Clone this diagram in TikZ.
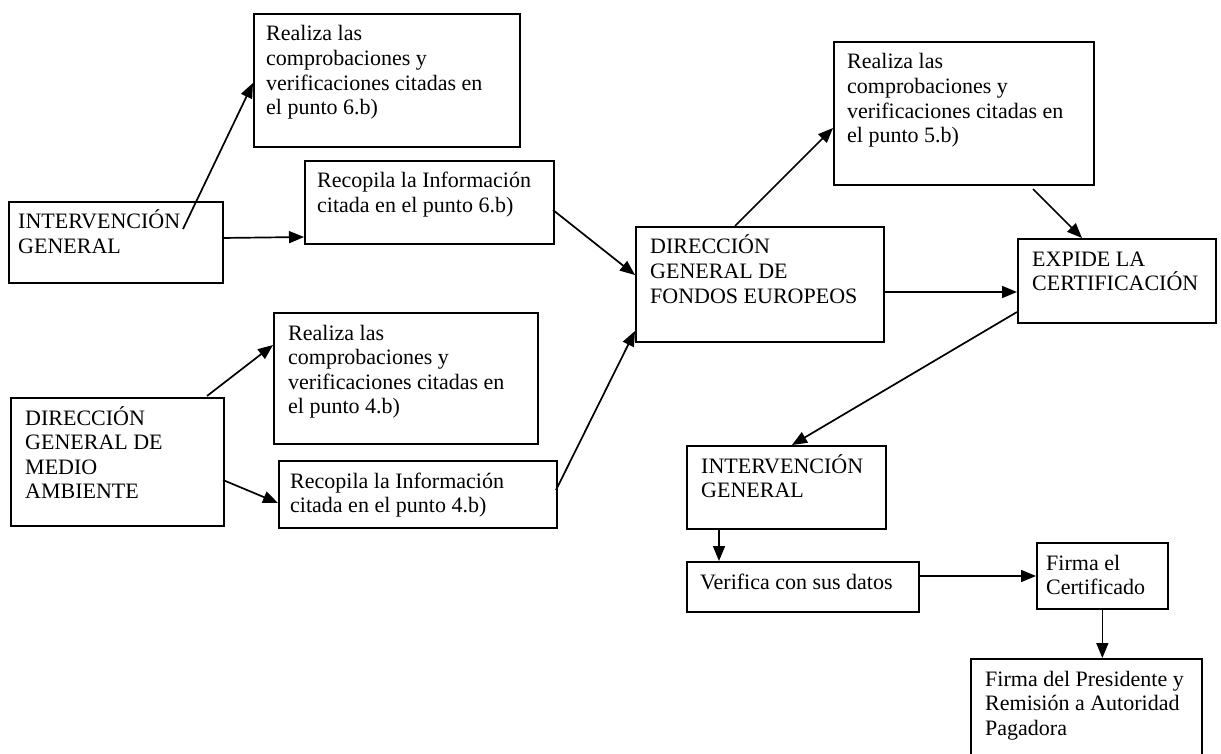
\documentclass[tikz,border=0pt]{standalone}
\usepackage{fontspec}
\setmainfont{Liberation Serif}
\usetikzlibrary{arrows.meta,calc}
\tikzset{
  box/.style={draw, line width=1.7pt, rectangle, inner sep=0pt, anchor=north west},
  lbl/.style={anchor=base west, inner sep=0pt, font=\fontsize{22}{24.6}\selectfont},
  conn/.style={line width=1.7pt, -{Triangle[length=15pt,width=12pt]}},
}
% name, x, y, w, h, left pad, text
\newcommand\bx[7]{%
  \node[box, minimum width=#4pt, minimum height=#5pt] (#1) at (#2,#3) {};
  \node[lbl] (#1-t) at ($(#1.north west)+(#6,28)$) {\parbox[t]{\dimexpr#4pt-#6pt\relax}{\raggedright #7}};
}
\begin{document}
\begin{tikzpicture}[x=1pt,y=-1pt]
  \clip (0,0) rectangle (1221,754);
  \fill[white] (0,0) rectangle (1221,754);

  \bx{a}{253}{13}{266}{133}{13}{Realiza las\\comprobaciones y\\verificaciones citadas en\\el punto 6.b)}
  \bx{b}{304}{160}{249}{83}{13}{Recopila la Información\\citada en el punto 6.b)}
  \bx{ig1}{8}{201}{214}{81}{10}{INTERVENCIÓN\\GENERAL}
  \bx{c}{273}{312}{264}{131}{15}{Realiza las\\comprobaciones y\\verificaciones citadas en\\el punto 4.b)}
  \bx{d}{278}{460}{278}{67}{12}{Recopila la Información\\citada en el punto 4.b)}
  \bx{dgma}{10}{397}{213}{128}{15}{DIRECCIÓN\\GENERAL DE\\MEDIO\\AMBIENTE}
  \bx{dgfe}{635}{226}{248}{115}{15}{DIRECCIÓN\\GENERAL DE\\FONDOS EUROPEOS}
  \bx{e}{833}{41}{260}{143}{14}{Realiza las\\comprobaciones y\\verificaciones citadas en\\el punto 5.b)}
  \bx{exp}{1017}{238}{198}{84}{15}{EXPIDE LA\\CERTIFICACIÓN}
  \bx{ig2}{686}{445}{199}{83}{15}{INTERVENCIÓN\\GENERAL}
  \bx{ver}{686}{561}{232}{50}{14}{Verifica con sus datos}
  \bx{fir}{1036}{542}{131}{66}{10}{Firma el\\Certificado}
  \bx{fp}{970}{658}{231}{120}{15}{Firma del Presidente y\\Remisión a Autoridad\\Pagadora}

  \draw[conn] ($(ig1.north west)+(175,28)$) -- ($(a.north west)+(0,70)$);
  \draw[conn] ($(ig1.north west)+(214,37)$) -- ($(b.north west)+(0,77)$);
  \draw[conn] ($(dgma.north west)+(197,-1)$) -- ($(c.north west)+(0,33)$);
  \draw[conn] ($(dgma.north west)+(213,83)$) -- ($(d.north west)+(0,43)$);
  \draw[conn] ($(b.north west)+(249,50)$) -- ($(dgfe.north west)+(0,49)$);
  \draw[conn] ($(d.north west)+(278,30)$) -- ($(dgfe.north west)+(0,105)$);
  \draw[conn] ($(dgfe.north west)+(100,0)$) -- ($(e.north west)+(0,87)$);
  \draw[conn] ($(e.north west)+(200,148)$) -- ($(exp.north west)+(65,0)$);
  \draw[conn] ($(dgfe.north west)+(248,66)$) -- ($(exp.north west)+(0,54)$);
  \draw[conn] ($(exp.north west)+(0,74)$) -- ($(ig2.north west)+(106,0)$);
  \draw[conn] ($(ig2.south west)+(33,0)$) -- ($(ver.north west)+(33,0)$);
  \draw[conn] ($(ver.north west)+(232,15)$) -- ($(fir.north west)+(0,34)$);
  \draw[conn] (fir.south) -- (fir.south |- fp.north);
\end{tikzpicture}
\end{document}
